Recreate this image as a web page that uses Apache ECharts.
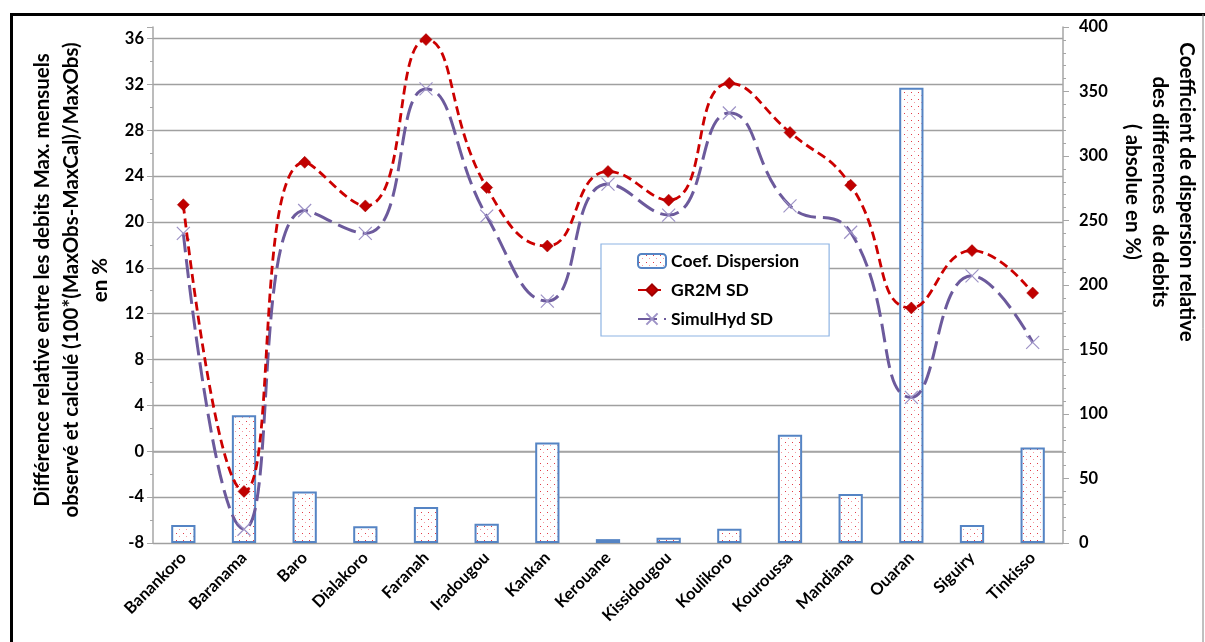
<!DOCTYPE html>
<html>
<head>
<meta charset="utf-8">
<script src="https://cdn.jsdelivr.net/npm/echarts@6/dist/echarts.min.js"></script>
<style>html,body{margin:0;padding:0;background:#fff}#c{width:1205px;height:642px}</style>
</head>
<body>
<div id="c"></div>
<script>
// ---- data ----
const categories = ['Banankoro','Baranama','Baro','Dialakoro','Faranah','Iradougou','Kankan','Kerouane','Kissidougou','Koulikoro','Kouroussa','Mandiana','Ouaran','Siguiry','Tinkisso'];
const coefDispersion = [14, 99, 40, 13, 28, 15, 78, 3, 4, 11, 84, 38, 353, 14, 74];
const gr2mSD = [21.5, -3.5, 25.2, 21.4, 35.9, 23.0, 17.9, 24.4, 21.9, 32.1, 27.8, 23.2, 12.5, 17.5, 13.8];
const simulHydSD = [19.0, -6.8, 21.0, 19.0, 31.6, 20.5, 13.1, 23.3, 20.6, 29.5, 21.4, 19.1, 4.7, 15.3, 9.5];
const seriesNames = ['Coef. Dispersion', 'GR2M SD', 'SimulHyd SD'];
const leftRange = [-8, 37];
const leftInterval = 4;
const rightRange = [0, 400];
const rightInterval = 50;
const leftTitle = 'Différence relative entre les debits Max. mensuels\nobservé et calculé (100*(MaxObs-MaxCal)/MaxObs)\nen %';
const rightTitle = 'Coefficient de dispersion relative\ndes differences  de debits\n( absolue en %)';

// ---- dotted pattern for bars ----
const pat = document.createElement('canvas');
pat.width = 7; pat.height = 7;
const pc = pat.getContext('2d');
pc.fillStyle = '#ffffff'; pc.fillRect(0, 0, 7, 7);
pc.fillStyle = '#e23c48'; pc.fillRect(1, 1, 1, 1);
pc.fillStyle = '#f39aa1'; pc.fillRect(4, 4, 1, 1);

const FONT = 'Lato, "Open Sans", sans-serif';
const chart = echarts.init(document.getElementById('c'), null, {renderer: 'canvas'});
const xMark = 'path://M0,0L10,10M10,0L0,10';

chart.setOption({
  animation: false,
  backgroundColor: '#ffffff',
  grid: {left: 153, right: 142, top: 27, bottom: 99, containLabel: false},
  legend: {
    orient: 'vertical',
    left: 601, top: 244,
    padding: [8, 30, 8, 36],
    itemGap: 11,
    itemWidth: 28, itemHeight: 14,
    backgroundColor: '#ffffff',
    borderColor: '#8eb4e3', borderWidth: 1.2,
    textStyle: {fontFamily: FONT, fontWeight: 'bold', fontSize: 17.5, color: '#000'},
    data: seriesNames
  },
  xAxis: {
    type: 'category',
    data: categories,
    axisLine: {lineStyle: {color: '#a6a6a6', width: 1.5}},
    axisTick: {show: false},
    axisLabel: {rotate: 45, interval: 0, margin: 12, fontFamily: FONT, fontWeight: 'bold', fontSize: 16.5, color: '#000'}
  },
  yAxis: [
    {
      type: 'value', position: 'left',
      min: leftRange[0], max: leftRange[1], interval: leftInterval,
      axisLine: {show: true, lineStyle: {color: '#a6a6a6', width: 1.5}},
      axisTick: {show: true, length: 6, lineStyle: {color: '#a6a6a6'}},
      minorTick: {show: true, splitNumber: 2, length: 3, lineStyle: {color: '#a6a6a6'}},
      splitLine: {show: true, showMaxLine: false, lineStyle: {color: '#a0a0a0', width: 1.3}},
      axisLabel: {showMaxLabel: false, margin: 9, fontFamily: FONT, fontWeight: 'bold', fontSize: 16.5, color: '#000'}
    },
    {
      type: 'value', position: 'right',
      min: rightRange[0], max: rightRange[1], interval: rightInterval,
      axisLine: {show: true, lineStyle: {color: '#a6a6a6', width: 1.5}},
      axisTick: {show: true, length: 6, lineStyle: {color: '#a6a6a6'}},
      minorTick: {show: true, splitNumber: 5, length: 3, lineStyle: {color: '#a6a6a6'}},
      splitLine: {show: false},
      axisLabel: {margin: 16, fontFamily: FONT, fontWeight: 'bold', fontSize: 16.5, color: '#000'}
    }
  ],
  series: [
    {
      name: seriesNames[0], type: 'bar', yAxisIndex: 1,
      data: coefDispersion, barWidth: '40%', z: 1,
      itemStyle: {color: {image: pat, repeat: 'repeat'}, borderColor: '#5584c4', borderWidth: 2}
    },
    {
      name: seriesNames[1], type: 'line', yAxisIndex: 0,
      data: gr2mSD, smooth: 0.5, z: 3,
      symbol: 'diamond', symbolSize: 12,
      itemStyle: {color: '#c00000', borderColor: '#a00000', borderWidth: 0.5},
      lineStyle: {color: '#cc0000', width: 2.8, type: [9, 5]}
    },
    {
      name: seriesNames[2], type: 'line', yAxisIndex: 0,
      data: simulHydSD, smooth: 0.5, z: 2,
      symbol: xMark, symbolSize: 13, symbolKeepAspect: true,
      itemStyle: {color: 'rgba(0,0,0,0)', borderColor: '#9d92c6', borderWidth: 1.2},
      lineStyle: {color: '#6c5a9c', width: 3, type: [19, 7]}
    }
  ],
  graphic: [
    {type: 'polyline', shape: {points: [[11.5, 650], [11.5, 14.5], [1210, 14.5]]}, style: {stroke: '#000', lineWidth: 3, fill: null}, silent: true},
    {type: 'line', shape: {x1: 1203, y1: 14, x2: 1203, y2: 650}, style: {stroke: '#808080', lineWidth: 1}, silent: true},
    {type: 'text', x: 71, y: 280, rotation: Math.PI / 2,
      style: {text: leftTitle, textAlign: 'center', textVerticalAlign: 'middle', lineHeight: 29, font: 'bold 20.5px ' + FONT, fill: '#000'}},
    {type: 'text', x: 1160, y: 192, rotation: -Math.PI / 2,
      style: {text: rightTitle, textAlign: 'center', textVerticalAlign: 'middle', lineHeight: 27, font: 'bold 20.5px ' + FONT, fill: '#000'}}
  ]
});
</script>
</body>
</html>
